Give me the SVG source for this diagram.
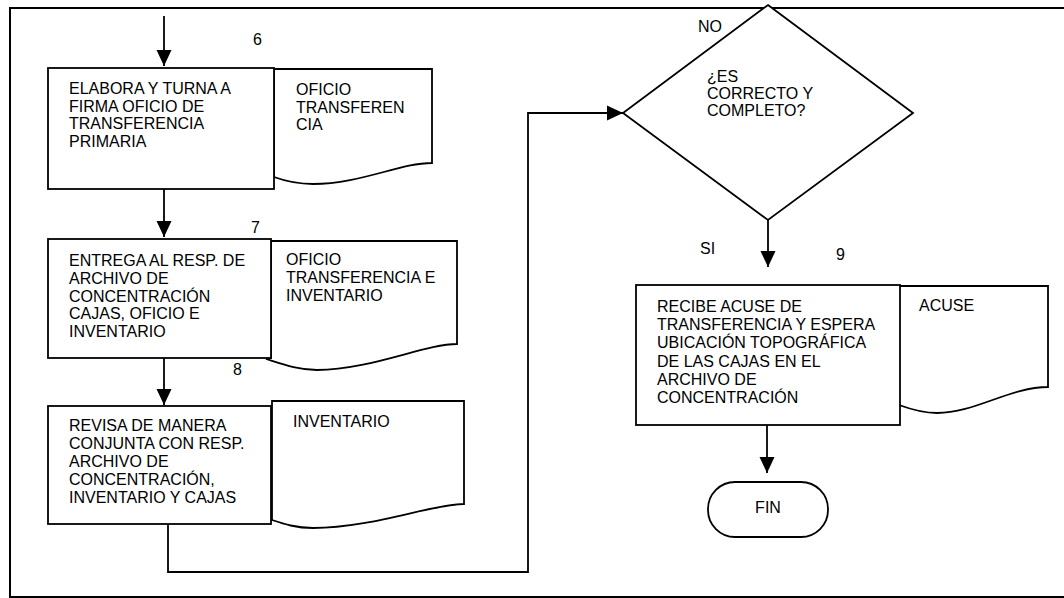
<svg xmlns="http://www.w3.org/2000/svg" width="1064" height="598" viewBox="0 0 1064 598">
  <defs>
    <style>
      .shape { fill: #fff; stroke: #000; stroke-width: 1.8; }
      .wire { fill: none; stroke: #000; stroke-width: 1.8; }
      text { font-family: "Liberation Sans", Arial, sans-serif; font-size: 16px; fill: #000; }
    </style>
    <marker id="arrow" markerUnits="userSpaceOnUse" markerWidth="16" markerHeight="16" viewBox="0 0 16 16" refX="16" refY="8" orient="auto">
      <path d="M0,0.5 L16,8 L0,15.5 Z" fill="#000"/>
    </marker>
  </defs>

  <rect width="1064" height="598" fill="#fff"/>

  <!-- page frame (open on the right) -->
  <path d="M1066,8 H10 V597 H1066" fill="none" stroke="#000" stroke-width="2"/>

  <!-- connectors -->
  <g id="connectors">
    <line class="wire" x1="164" y1="16" x2="164" y2="66" marker-end="url(#arrow)"/>
    <line class="wire" x1="164" y1="189" x2="164" y2="237" marker-end="url(#arrow)"/>
    <line class="wire" x1="164" y1="358" x2="164" y2="405" marker-end="url(#arrow)"/>
    <polyline class="wire" points="168,524 168,572 528,572 528,113 623,113" marker-end="url(#arrow)"/>
    <line class="wire" x1="768" y1="220" x2="768" y2="267" marker-end="url(#arrow)"/>
    <line class="wire" x1="767" y1="425" x2="767" y2="473" marker-end="url(#arrow)"/>
  </g>

  <!-- step 6 -->
  <g id="step6">
    <path class="shape" d="M274,69 H432 V163 C400,163 360,184 313,184 C296,184 285,181 274,177 Z"/>
    <rect class="shape" x="48" y="68" width="226" height="121"/>
    <text x="69" y="94">ELABORA Y TURNA A</text>
    <text x="69" y="111.5">FIRMA OFICIO DE</text>
    <text x="69" y="129">TRANSFERENCIA</text>
    <text x="69" y="146.5">PRIMARIA</text>
    <text x="296" y="95">OFICIO</text>
    <text x="296" y="112.5">TRANSFEREN</text>
    <text x="296" y="130">CIA</text>
    <text x="253" y="45">6</text>
  </g>

  <!-- step 7 -->
  <g id="step7">
    <path class="shape" d="M271,241 H457 V344 C425,344 370,370 317,370 C298,370 282,364 266,359 L271,358 Z"/>
    <rect class="shape" x="48" y="239" width="223" height="119"/>
    <text x="69" y="266">ENTREGA AL RESP. DE</text>
    <text x="69" y="283.5">ARCHIVO DE</text>
    <text x="69" y="301.5">CONCENTRACIÓN</text>
    <text x="69" y="319">CAJAS, OFICIO E</text>
    <text x="69" y="337">INVENTARIO</text>
    <text x="286" y="265">OFICIO</text>
    <text x="286" y="283">TRANSFERENCIA E</text>
    <text x="286" y="301">INVENTARIO</text>
    <text x="251" y="233">7</text>
    <text x="233" y="375">8</text>
  </g>

  <!-- step 8 -->
  <g id="step8">
    <path class="shape" d="M272,401 H464 V504 C432,504 372,528 313,528 C296,528 284,524 272,520 Z"/>
    <rect class="shape" x="48" y="406" width="223" height="118"/>
    <text x="69" y="431">REVISA DE MANERA</text>
    <text x="69" y="449">CONJUNTA CON RESP.</text>
    <text x="69" y="467">ARCHIVO DE</text>
    <text x="69" y="485">CONCENTRACIÓN,</text>
    <text x="69" y="502.5">INVENTARIO Y CAJAS</text>
    <text x="293" y="427">INVENTARIO</text>
  </g>

  <!-- decision -->
  <g id="decision">
    <polygon class="shape" points="768,5 913,113 768,220 623,113"/>
    <text x="707" y="82">¿ES</text>
    <text x="707" y="99">CORRECTO Y</text>
    <text x="707" y="116">COMPLETO?</text>
    <text x="698" y="32">NO</text>
    <text x="700" y="254">SI</text>
  </g>

  <!-- step 9 -->
  <g id="step9">
    <path class="shape" d="M899,286 H1048 V387 C1010,387 975,413 937,413 C922,413 910,409 899,405 Z"/>
    <rect class="shape" x="636" y="285" width="264" height="140"/>
    <text x="657" y="312">RECIBE ACUSE DE</text>
    <text x="657" y="330">TRANSFERENCIA Y ESPERA</text>
    <text x="657" y="348">UBICACIÓN TOPOGRÁFICA</text>
    <text x="657" y="366.5">DE LAS CAJAS EN EL</text>
    <text x="657" y="384.5">ARCHIVO DE</text>
    <text x="657" y="403">CONCENTRACIÓN</text>
    <text x="919" y="311">ACUSE</text>
    <text x="836" y="260">9</text>
  </g>

  <!-- end terminal -->
  <g id="fin">
    <rect class="shape" x="708" y="482" width="120" height="55" rx="27" ry="27"/>
    <text x="768" y="513" text-anchor="middle">FIN</text>
  </g>
</svg>
